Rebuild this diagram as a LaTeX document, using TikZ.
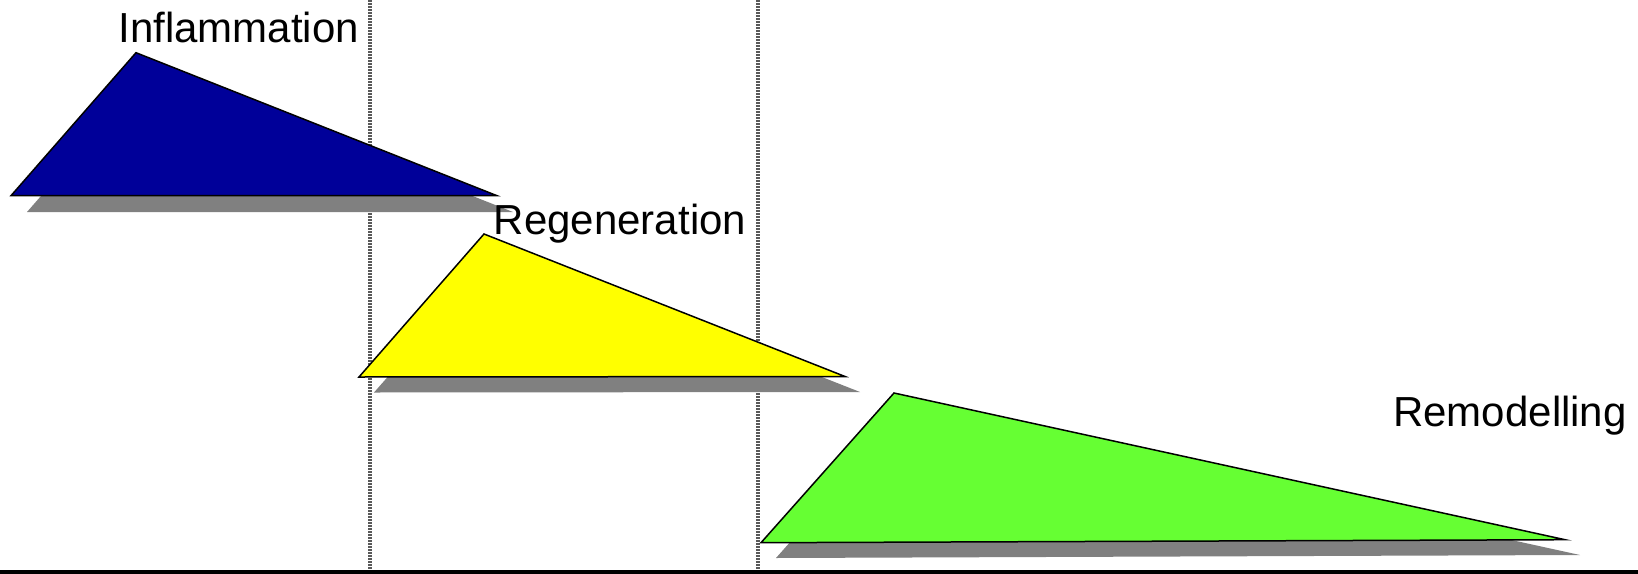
\documentclass[tikz,border=0pt]{standalone}
\usepackage{fontspec}
\setmainfont{Liberation Sans}
\begin{document}
\begin{tikzpicture}[x=1pt,y=-1pt,
  lbl/.style={inner sep=0pt, anchor=base, font=\fontsize{42}{50}\selectfont},
  shadowtri/.style={fill=gray, draw=none},
  tri/.style={draw=black, line width=1.5pt, line join=miter},
  divider/.style={draw=gray!70!black, line width=3.5pt, dash pattern=on 1.5pt off 1.5pt}]
\useasboundingbox (0,0) rectangle (1638,573);
\fill[white] (0,0) rectangle (1638,573);
% dividers
\coordinate (d1t) at (370,0); \coordinate (d1b) at (370,570);
\coordinate (d2t) at (758,0); \coordinate (d2b) at (758,570);
\draw[divider] (d1t) -- (d1b);
\draw[divider] (d2t) -- (d2b);
% bottom axis
\coordinate (al) at (0,572); \coordinate (ar) at (1638,572);
\draw[line width=4pt] (al) -- (ar);
% blue
\fill[shadowtri] (27,212) -- (152,69) -- (513,212) -- cycle;
\draw[tri, fill={rgb,255:red,0;green,0;blue,153}] (11,195.7) -- (136,52.7) -- (497,195.7) -- cycle;
% yellow
\fill[shadowtri] (374,392.5) -- (499,250) -- (860,392) -- cycle;
\draw[tri, fill={rgb,255:red,255;green,255;blue,0}] (359,377) -- (484,234) -- (845,376.5) -- cycle;
% green
\fill[shadowtri] (776,558) -- (909,408) -- (1580,555) -- cycle;
\draw[tri, fill={rgb,255:red,102;green,255;blue,51}] (761,542.7) -- (894,393) -- (1565,539.7) -- cycle;
% labels
\node[lbl] (infl) at (238.7,42.3) {Inflammation};
\node[lbl] (regen) at (620,234.3) {Regeneration};
\node[lbl] (remod) at (1510,426) {Remodelling};
\end{tikzpicture}
\end{document}
